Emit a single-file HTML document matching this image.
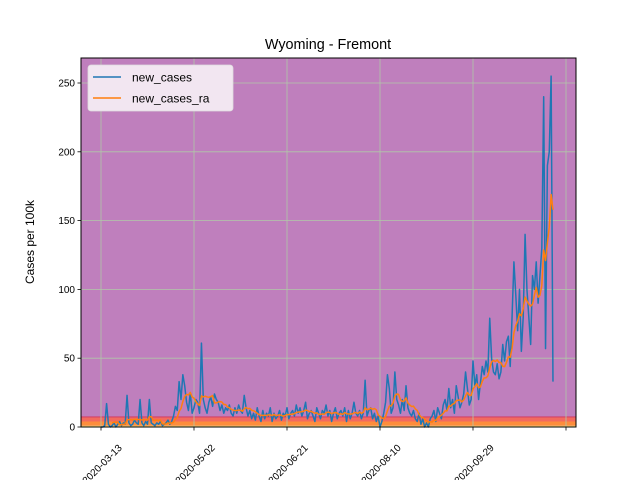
<!DOCTYPE html>
<html><head><meta charset="utf-8"><style>
body{margin:0;background:#fff}
svg{display:block;font-family:"Liberation Sans","DejaVu Sans",sans-serif}
</style></head><body>
<svg id="chart" width="640" height="480" viewBox="0 0 640 480">
<g id="plot"></g>
</svg>
<script>
const tickLabels=["2020-03-13","2020-05-02","2020-06-21","2020-08-10","2020-09-29",""];
const tickDays=[0,50,100,150,200,250];
const yTicks=[0,50,100,150,200,250];
const bandEdges=[0,1,4,7];
const bandColors=["#fed976","#fd8d3c","#f26a5f","#d7304f"];
const newCases=[
0,0,1,17,2,0,1,3,0,2,
4,1,3,2,23,3,1,2,5,3,
2,20,3,1,4,2,20,3,2,1,
3,2,4,1,2,3,5,2,4,8,
15,12,33,20,38,30,18,12,25,10,
14,20,18,10,61,20,14,10,18,22,
15,24,20,18,12,16,10,14,12,16,
10,8,14,10,16,12,10,23,14,8,
12,6,10,5,14,8,4,12,6,10,
8,14,4,10,6,8,12,5,10,8,
14,6,10,12,8,16,10,14,8,12,
18,6,10,12,8,4,14,10,6,12,
10,16,8,12,4,10,14,6,10,12,
8,14,4,12,6,10,18,10,8,12,
6,10,34,8,12,14,6,10,4,8,
0,4,10,18,38,28,10,14,40,20,
16,10,20,12,30,14,10,8,12,6,
4,10,2,6,0,3,0,6,8,12,
4,14,10,6,16,20,12,28,14,20,
10,30,22,14,18,24,40,28,16,20,
48,30,38,20,32,44,38,48,40,79,
50,40,38,46,35,40,60,48,62,66,
44,80,120,96,70,100,55,80,140,100,
80,60,110,100,120,90,110,130,240,57,
190,200,255,33];
const L=81,R=576,T=58,B=427;
const X=d=>101+d*1.86;
const Y=v=>B-v*1.376;
const NS="http://www.w3.org/2000/svg";
const svg=document.getElementById('chart');
function mk(t,a,p){const e=document.createElementNS(NS,t);for(const k in a)e.setAttribute(k,a[k]);(p||svg).appendChild(e);return e;}
const bg=mk('rect',{x:L,y:T,width:R-L,height:B-T,fill:'#bf7fbd'});


for(let i=0;i<bandEdges.length;i++){
 const top=i+1<bandEdges.length?bandEdges[i+1]:bandEdges[i]+0.6;
 const b=mk('rect',{x:L,y:Y(top),width:R-L,height:Y(bandEdges[i])-Y(top),fill:bandColors[i]});
 
 
}
tickDays.forEach(d=>{const g=mk('line',{x1:X(d),x2:X(d),y1:T,y2:B,stroke:'#b0c8a8','stroke-width':0.8});
 });
yTicks.forEach(v=>{const g=mk('line',{x1:L,x2:R,y1:Y(v),y2:Y(v),stroke:'#b0c8a8','stroke-width':0.8});
 });
const ra=newCases.map((v,i)=>{if(i<6)return null;let s=0;for(let k=i-6;k<=i;k++)s+=newCases[k];return s/7;});
const p1=mk('polyline',{points:newCases.map((v,i)=>X(i)+','+Y(v)).join(' '),fill:'none',stroke:'#1f77b4','stroke-width':1.5,'stroke-linejoin':'round'});


const p2=mk('polyline',{points:ra.map((v,i)=>v===null?null:X(i)+','+Y(v)).filter(s=>s).join(' '),fill:'none',stroke:'#ff7f0e','stroke-width':1.5,'stroke-linejoin':'round'});


const fr=mk('rect',{x:L,y:T,width:R-L,height:B-T,fill:'none',stroke:'#000','stroke-width':1});


yTicks.forEach(v=>{
 const t=mk('line',{x1:L-3.5,x2:L,y1:Y(v),y2:Y(v),stroke:'#000','stroke-width':0.8});
 
 const l=mk('text',{x:L-6,y:Y(v)+3.5,'text-anchor':'end','font-size':10});l.textContent=v;
 
});
tickDays.forEach((d,i)=>{
 const t=mk('line',{x1:X(d),x2:X(d),y1:B,y2:B+3.5,stroke:'#000','stroke-width':0.8});
 
 const cx=X(d)+1,cy=B+37;
 const l=mk('text',{x:cx,y:cy+3.5,'text-anchor':'middle','font-size':10,transform:`rotate(-45 ${cx} ${cy})`});l.textContent=tickLabels[i];
 
});
const ti=mk('text',{x:328,y:49,'text-anchor':'middle','font-size':14.4});ti.textContent='Wyoming - Fremont';

const yl=mk('text',{x:34,y:242,'text-anchor':'middle','font-size':12,transform:'rotate(-90 34 242)'});yl.textContent='Cases per 100k';

const lg=mk('g',{});
mk('rect',{x:88,y:65,width:145,height:46,rx:3,fill:'#f2e6f1',stroke:'#ddd','stroke-width':0.8},lg);
[['new_cases','#1f77b4',77],['new_cases_ra','#ff7f0e',98]].forEach(([n,c,y])=>{
 const e=mk('g',{},lg);
 mk('line',{x1:93,x2:121,y1:y,y2:y,stroke:c,'stroke-width':1.5},e);
 const t=mk('text',{x:132,y:y+4.5,'font-size':12},e);t.textContent=n;
});
</script>
</body></html>
